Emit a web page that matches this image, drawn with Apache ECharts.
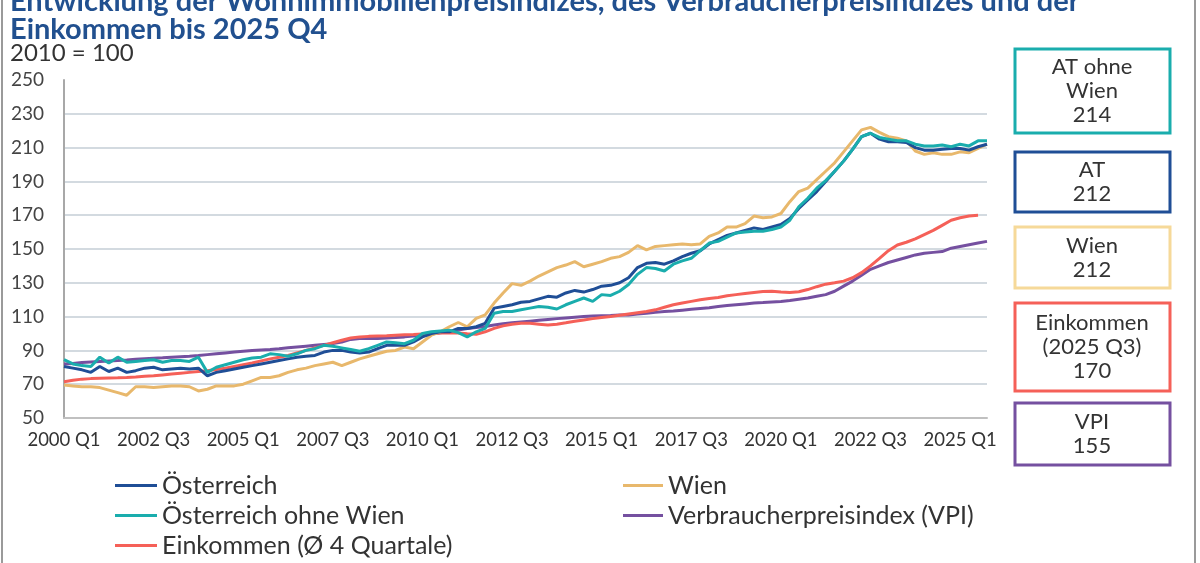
<!DOCTYPE html>
<html>
<head>
<meta charset="utf-8">
<script src="https://cdn.jsdelivr.net/npm/echarts@6/dist/echarts.min.js"></script>
<style>
  html, body { margin: 0; padding: 0; background: #fff; }
  #chart { width: 1200px; height: 563px; }
</style>
</head>
<body>
<div id="chart"></div>
<script>
// Quartale 2000 Q1 bis 2025 Q4
const years = []
for (let y = 2000; y <= 2025; y++) years.push(y)
const quarters = []
years.forEach(y => { for (let q = 1; q <= 4; q++) quarters.push(y + ' Q' + q) })

const yTicks = [50, 70, 90, 110, 130, 150, 170, 190, 210, 230, 250]

// Wohnimmobilienpreisindex Österreich
const oesterreich = [
  80.5, 79.5, 78.5, 77, 80.5, 77.5, 79.5, 77, 78, 79.5, 80, 78.5, 79, 79.5, 79, 79.5,
  75, 77, 78, 79, 80, 81, 82, 83, 84, 85, 86, 86.5, 87, 89, 90, 90,
  89, 88.5, 89, 91, 93, 93, 93, 95, 98, 100, 101, 101, 103, 103, 104, 106,
  115, 116, 117, 118.5, 119, 120.5, 122, 121.5, 124, 125.5, 124.5, 126, 128, 128.5, 130, 133,
  139, 141.5, 142, 141, 143, 145.5, 147.5, 149, 153, 155.5, 158, 159.5, 161, 162.5, 161.5, 163,
  164.5, 168, 174, 179, 184, 190, 196, 202, 209, 216.5, 218.5, 215, 213.5, 213.5, 213, 210,
  208.5, 208.5, 209, 209.5, 209.5, 208.5, 210.5, 212
]
// Wien
const wien = [
  69.5, 69, 68.5, 68.5, 68, 66.5, 65, 63.5, 68.5, 68.5, 68, 68.5, 69, 69, 68.5, 66,
  67, 69, 69, 69, 70, 72, 74, 74, 75, 77, 78.5, 79.5, 81, 82, 83, 81,
  83, 85, 86.5, 88, 89.5, 90, 92, 91, 95, 99, 101, 104, 106.5, 104, 109, 111,
  118, 124, 129.5, 128.5, 131, 134, 136.5, 139, 140.5, 142.5, 139.5, 141, 142.5, 144.5, 145.5, 148,
  152, 149.5, 151.5, 152, 152.5, 153, 152.5, 153, 157.5, 159.5, 163, 163, 165, 169.5, 168.5, 169,
  171, 178, 184, 186, 191, 196, 201, 207.5, 214, 220.5, 222, 219, 216.5, 215.5, 214, 208,
  206, 207, 206, 206, 207.5, 207, 209.5, 212
]
// Österreich ohne Wien
const ohneWien = [
  84.5, 82, 81, 80.5, 86, 82.5, 86, 83, 83.5, 84, 84.5, 83, 84, 84, 83.5, 86,
  77, 80, 81.5, 83, 84.5, 85.5, 86, 88, 87.5, 86.5, 88, 90, 91, 93, 92.5, 91.5,
  90.5, 89.5, 91, 93, 95, 94.5, 94, 96, 100, 101, 101.5, 102, 100.5, 98, 101, 103,
  112, 113, 113, 114, 115, 116, 115.5, 114.5, 117, 119, 121, 119, 123, 122.5, 125, 129,
  135, 139, 138.5, 137, 141, 143, 144.5, 149, 153.5, 154.5, 157, 159.5, 160, 160.5, 160.5, 161.5,
  163, 167, 175, 180, 186, 190.5, 196, 202, 209, 216.5, 218.5, 216, 215, 214, 214, 212,
  211, 211, 211.5, 210.5, 212, 211, 214, 214
]
// Verbraucherpreisindex
const vpi = [
  82, 82.3, 82.8, 83.2, 83.5, 83.8, 84, 84.3, 84.7, 85, 85.3, 85.6, 86, 86.3, 86.6, 87,
  87.5, 88, 88.5, 89, 89.5, 90, 90.3, 90.6, 91, 91.5, 92, 92.5, 93, 93.5, 94, 95,
  96.5, 97, 97, 97, 97.3, 97.6, 98, 98.5, 99, 99.7, 100.5, 101.2, 102, 103, 103.6, 104.2,
  105, 105.8, 106.3, 106.8, 107.3, 107.8, 108.3, 108.8, 109.2, 109.6, 110, 110.3, 110.5, 110.7, 111, 111,
  111.5, 112, 112.5, 113, 113.3, 113.8, 114.3, 114.8, 115.3, 116, 116.5, 117, 117.5, 118, 118.3, 118.7,
  119, 119.5, 120.3, 121, 122, 123, 125, 128, 131, 134.5, 138, 140, 142, 143.5, 145, 146.5,
  147.5, 148, 148.5, 150.5, 151.5, 152.5, 153.5, 154.5
]
// Einkommen (Durchschnitt 4 Quartale), letzter Wert 2025 Q3
const einkommen = [
  71.5, 72.3, 73, 73.3, 73.5, 73.7, 73.8, 74, 74.3, 74.7, 75, 75.5, 76, 76.5, 77, 77.5,
  78, 78.7, 79.5, 80.5, 81.5, 82.5, 83.8, 85, 86, 87, 88.5, 90, 91.5, 93, 94.5, 96,
  97.3, 98, 98.3, 98.5, 98.7, 99, 99.2, 99.4, 99.7, 100, 100.3, 100.5, 100.3, 99.8, 99.5, 101,
  103, 104.5, 105.5, 106, 106, 105.5, 105, 105.5, 106.3, 107.2, 108, 108.8, 109.5, 110, 110.8, 111.6,
  112.3, 113, 114, 115.5, 117, 118, 119, 120, 120.7, 121.3, 122.3, 123, 123.7, 124.3, 124.8, 125,
  124.5, 124.2, 124.7, 126, 127.7, 129.2, 130, 131, 133, 136, 140, 144.5, 149, 152.4, 154, 156,
  158.5, 161, 164, 167, 168.5, 169.5, 170, null
]

const cBlue = '#1f4e96'
const cWien = '#e8b86c'
const cTeal = '#1aadad'
const cVpi = '#7550a0'
const cEink = '#f56058'

function lastVal(arr) {
  for (let i = arr.length - 1; i >= 0; i--) if (arr[i] != null) return Math.round(arr[i])
}

const chart = echarts.init(document.getElementById('chart'))

const boxes = [
  { text: 'AT ohne\nWien\n' + lastVal(ohneWien), color: cTeal, y: 49, h: 84 },
  { text: 'AT\n' + lastVal(oesterreich), color: cBlue, y: 152, h: 60 },
  { text: 'Wien\n' + lastVal(wien), color: '#f6d999', y: 227, h: 61 },
  { text: 'Einkommen\n(2025 Q3)\n' + lastVal(einkommen), color: cEink, y: 303, h: 88 },
  { text: 'VPI\n' + lastVal(vpi), color: cVpi, y: 403, h: 62 },
]

const titleColor = '#21508f'
const graphics = [
  { type: 'line', shape: { x1: 2, y1: 0, x2: 2, y2: 563 }, style: { stroke: '#9a9a9a', lineWidth: 2 } },
  { type: 'line', shape: { x1: 1195, y1: 0, x2: 1195, y2: 563 }, style: { stroke: '#9a9a9a', lineWidth: 2 } },
  {
    type: 'text', x: 10, y: 2,
    style: {
      text: 'Entwicklung der Wohnimmobilienpreisindizes, des Verbraucherpreisindizes und der',
      font: 'bold 29px Lato', fill: titleColor, verticalAlign: 'middle'
    }
  },
  {
    type: 'text', x: 10, y: 30,
    style: { text: 'Einkommen bis 2025 Q4', font: 'bold 29px Lato', fill: titleColor, verticalAlign: 'middle' }
  },
  {
    type: 'text', x: 10, y: 53,
    style: { text: '2010 = 100', font: '24px Lato', fill: '#333', verticalAlign: 'middle' }
  },
]
boxes.forEach(b => {
  graphics.push({
    type: 'rect',
    shape: { x: 1015, y: b.y, width: 155, height: b.h },
    style: { fill: '#fff', stroke: b.color, lineWidth: 3 }
  })
  graphics.push({
    type: 'text',
    x: 1092, y: b.y + b.h / 2,
    style: {
      text: b.text, align: 'center', verticalAlign: 'middle',
      font: '22px Lato', lineHeight: 24, fill: '#333'
    }
  })
})

const legendText = { fontFamily: 'Lato', fontSize: 25, color: '#333' }

chart.setOption({
  animation: false,
  grid: { left: 64, right: 213, top: 80, bottom: 145 },
  legend: [
    {
      orient: 'vertical', left: 110, top: 468, itemGap: 5,
      icon: 'rect', itemWidth: 42, itemHeight: 3,
      textStyle: legendText,
      data: ['Österreich', 'Österreich ohne Wien', 'Einkommen (Ø 4 Quartale)']
    },
    {
      orient: 'vertical', left: 618, top: 468, itemGap: 5,
      icon: 'rect', itemWidth: 40, itemHeight: 3,
      textStyle: legendText,
      data: ['Wien', 'Verbraucherpreisindex (VPI)']
    }
  ],
  xAxis: {
    type: 'category',
    data: quarters,
    boundaryGap: false,
    axisLine: { lineStyle: { color: '#c0c0c0', width: 2 } },
    axisTick: { show: false },
    axisLabel: {
      interval: 9, margin: 13,
      fontFamily: 'Lato', fontSize: 18.5, color: '#333'
    },
    splitLine: { show: false }
  },
  yAxis: {
    type: 'value',
    min: yTicks[0], max: yTicks[yTicks.length - 1], interval: 20,
    axisLine: { show: true, lineStyle: { color: '#a8a8a8', width: 2 } },
    axisTick: { show: false },
    axisLabel: { margin: 20, fontFamily: 'Lato', fontSize: 19, color: '#444' },
    splitLine: {
      lineStyle: {
        color: ['#d3dae0', '#d3dae0', '#d3dae0', '#d3dae0', '#d3dae0', '#d3dae0',
                '#d3dae0', '#d3dae0', '#d3dae0', '#d3dae0', 'rgba(0,0,0,0)'],
        width: 2
      }
    }
  },
  series: [
    { name: 'Verbraucherpreisindex (VPI)', type: 'line', data: vpi, color: cVpi },
    { name: 'Einkommen (Ø 4 Quartale)', type: 'line', data: einkommen, color: cEink },
    { name: 'Wien', type: 'line', data: wien, color: cWien },
    { name: 'Österreich', type: 'line', data: oesterreich, color: cBlue },
    { name: 'Österreich ohne Wien', type: 'line', data: ohneWien, color: cTeal }
  ].map(s => Object.assign(s, {
    showSymbol: false,
    symbol: 'none',
    lineStyle: { width: 3, color: s.color },
    emphasis: { disabled: true }
  })),
  graphic: graphics
})
</script>
</body>
</html>
